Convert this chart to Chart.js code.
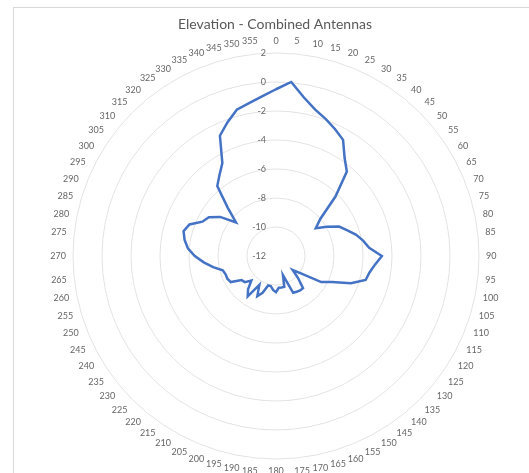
<!DOCTYPE html>
<html>
<head>
<meta charset="utf-8">
<script src="https://cdn.jsdelivr.net/npm/chart.js@4.4.1/dist/chart.umd.min.js"></script>
<style>
  html, body { margin: 0; padding: 0; background: #fff; overflow: hidden; width: 529px; height: 473px; }
  #frame { position: absolute; left: 13px; top: 7px; width: 600px; height: 600px; border: 1px solid #d9d9d9; }
  #wrap { position: absolute; left: 0; top: 0; width: 529px; height: 490px; }
</style>
</head>
<body>
<div id="frame"></div>
<div id="wrap"><canvas id="radarChart"></canvas></div>
<script>
// angle labels (degrees)
const angles = ['0', '5', '10', '15', '20', '25', '30', '35', '40', '45', '50', '55',
  '60', '65', '70', '75', '80', '85', '90', '95', '100', '105', '110', '115',
  '120', '125', '130', '135', '140', '145', '150', '155', '160', '165', '170', '175',
  '180', '185', '190', '195', '200', '205', '210', '215', '220', '225', '230', '235',
  '240', '245', '250', '255', '260', '265', '270', '275', '280', '285', '290', '295',
  '300', '305', '310', '315', '320', '325', '330', '335', '340', '345', '350', '355'];

// combined antenna gain per angle
const gain = [-0.5, 0.05, -0.9, -1.55, -1.95, -2.35, -2.75, -3.75, -4.4, -6.2, -8.0, -8.65,
  -7.95, -7.2, -6.8, -6.3, -5.9, -5.55, -4.7, -5.15, -5.45, -5.6, -6.5, -7.75,
  -8.4, -9.9, -10.5, -9.85, -9.1, -9.1, -9.15, -9.2, -10.6, -9.8, -9.8, -9.8,
  -9.5, -9.65, -9.9, -9.9, -9.3, -8.95, -9.7, -8.6, -9.0, -9.6, -9.2, -9.1,
  -8.4, -8.3, -8.3, -8.2, -7.6, -7.0, -6.4, -5.9, -5.6, -5.4, -5.65, -6.4,
  -6.65, -7.3, -8.4, -7.3, -5.7, -5.2, -4.6, -2.85, -2.2, -1.55, -1.3, -0.95];

const tickValues = [-12, -10, -8, -6, -4, -2, 0, 2];

const textColor = '#666666';
const fontFamily = 'Lato';

// value axis labels sit just left of the vertical axis, like Excel
const tickLabels = {
    id: 'tickLabels',
    beforeDatasetsDraw(chart) {
        const scale = chart.scales.r;
        const ctx = chart.ctx;
        ctx.save();
        ctx.font = '9px ' + fontFamily;
        ctx.fillStyle = textColor;
        ctx.textAlign = 'right';
        ctx.textBaseline = 'middle';
        tickValues.forEach((v) => {
            const d = scale.getDistanceFromCenterForValue(v);
            ctx.fillText(String(v), scale.xCenter - 10, scale.yCenter - d);
        });
        ctx.restore();
    }
};

const ctx = document.getElementById('radarChart').getContext('2d');

new Chart(ctx, {
    type: 'radar',
    data: {
        labels: angles,
        datasets: [
            {
                label: 'Combined',
                data: gain,
                borderColor: '#4472C4',
                borderWidth: 2.5,
                pointRadius: 0,
                pointHoverRadius: 0,
                fill: false,
                tension: 0,
            },
        ],
    },
    options: {
        responsive: true,
        maintainAspectRatio: false,
        animation: false,
        layout: {
            padding: { left: 45, right: 24, top: 0, bottom: 13 },
        },
        plugins: {
            legend: { display: false },
            tooltip: { enabled: false },
            title: {
                display: true,
                text: 'Elevation - Combined Antennas',
                color: '#595959',
                font: { family: fontFamily, size: 14, weight: 'normal' },
                padding: { top: 15.6, bottom: 2.8 },
            },
        },
        scales: {
            r: {
                min: -12,
                max: 2,
                angleLines: { display: false },
                grid: { circular: true, color: '#e3e3e3', lineWidth: 1 },
                ticks: { display: false, stepSize: 2 },
                pointLabels: {
                    color: textColor,
                    padding: 7,
                    font: { family: fontFamily, size: 9 },
                },
            },
        },
    },
    plugins: [tickLabels],
});
</script>
</body>
</html>
